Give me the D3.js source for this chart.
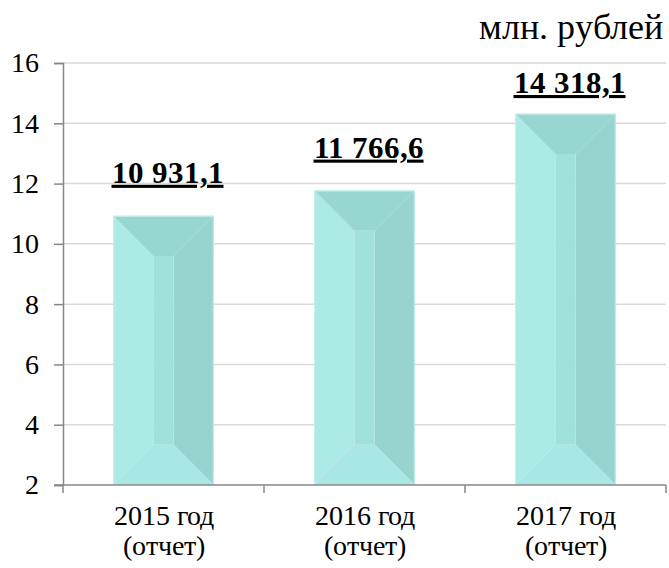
<!DOCTYPE html>
<html>
<head>
<meta charset="utf-8">
<script src="https://cdn.jsdelivr.net/npm/d3@7"></script>
<style>
  @font-face {
    font-family: "RefSerif";
    src: local("Liberation Serif"), local("LiberationSerif"), local("Liberation Serif Regular"), local("LiberationSerif-Regular");
    font-weight: normal;
  }
  @font-face {
    font-family: "RefSerif";
    src: local("Liberation Serif Bold"), local("LiberationSerif-Bold");
    font-weight: bold;
  }
  svg text { font-family: "RefSerif", "Liberation Serif", Tinos, "Times New Roman", serif; }
</style>
</head>
<body style="margin:0; background:#fff">
<script>
// data
var years = ["2015 год", "2016 год", "2017 год"];
var notes = ["(отчет)", "(отчет)", "(отчет)"];
var values = [10.9311, 11.7666, 14.3181];
var valueLabels = ["10 931,1", "11 766,6", "14 318,1"];
var yTicks = [2, 4, 6, 8, 10, 12, 14, 16];
var unitLabel = "млн. рублей";

var width = 669,
  height = 568,
  margin = { top: 63, right: 3, bottom: 83, left: 63 };

var svg = d3.select("body").append("svg")
  .attr("width", width)
  .attr("height", height);

var x = d3.scaleBand()
  .domain(years)
  .range([margin.left, width - margin.right])
  .paddingInner(0.5)
  .paddingOuter(0.25);

var y = d3.scaleLinear()
  .domain([2, 16])
  .range([height - margin.bottom, margin.top]);

// gridlines
svg.append("g")
  .selectAll("line")
  .data(yTicks.slice(1))
  .enter().append("line")
  .attr("x1", margin.left)
  .attr("x2", width - margin.right)
  .attr("y1", function(d) { return y(d); })
  .attr("y2", function(d) { return y(d); })
  .attr("stroke", "#d9d9d9")
  .attr("stroke-width", 1.5);

// bevelled bars
var faces = [
  { name: "left",   color: "#aceae6" },
  { name: "top",    color: "#98d6d2" },
  { name: "right",  color: "#97d4d0" },
  { name: "bottom", color: "#a8e7e3" },
  { name: "center", color: "#a1e1dc" }
];

function facePoints(face, x0, y0, x1, y1, b) {
  var pts;
  if (face === "left") pts = [[x0, y0], [x0 + b, y0 + b], [x0 + b, y1 - b], [x0, y1]];
  else if (face === "top") pts = [[x0, y0], [x1, y0], [x1 - b, y0 + b], [x0 + b, y0 + b]];
  else if (face === "right") pts = [[x1, y0], [x1, y1], [x1 - b, y1 - b], [x1 - b, y0 + b]];
  else if (face === "bottom") pts = [[x0, y1], [x1, y1], [x1 - b, y1 - b], [x0 + b, y1 - b]];
  else pts = [[x0 + b, y0 + b], [x1 - b, y0 + b], [x1 - b, y1 - b], [x0 + b, y1 - b]];
  return pts.map(function(p) { return p.join(","); }).join(" ");
}

var bars = svg.append("g")
  .selectAll("g")
  .data(values)
  .enter().append("g");

bars.each(function(v, i) {
  var g = d3.select(this);
  var x0 = x(years[i]), x1 = x0 + x.bandwidth();
  var y0 = y(v), y1 = y(2);
  var b = x.bandwidth() * 0.4;
  faces.forEach(function(f) {
    g.append("polygon")
      .attr("points", facePoints(f.name, x0, y0, x1, y1, b))
      .attr("fill", f.color);
  });
  g.append("rect")
    .attr("x", x0 + 0.5)
    .attr("y", y0 + 0.5)
    .attr("width", x.bandwidth() - 1)
    .attr("height", y1 - y0 - 1)
    .attr("fill", "none")
    .attr("stroke", "#c4efec")
    .attr("stroke-width", 1);
});

// value labels (kept inside the plot area at the top)
svg.append("g")
  .selectAll("text")
  .data(values)
  .enter().append("text")
  .attr("x", function(d, i) { return x(years[i]) + x.bandwidth() / 2 + 4; })
  .attr("y", function(d) { return Math.max(y(d) - 33, margin.top + 30); })
  .attr("text-anchor", "middle")
  .attr("font-size", 31)
  .attr("font-weight", "bold")
  .attr("text-decoration", "underline")
  .text(function(d, i) { return valueLabels[i]; });

// y axis
var yAxis = svg.append("g")
  .attr("transform", "translate(" + margin.left + ",0)")
  .call(d3.axisLeft(y).tickValues(yTicks).tickSize(9).tickPadding(15).tickFormat(d3.format("d")));
yAxis.attr("font-family", null);
yAxis.select(".domain").attr("stroke", "#878787").attr("stroke-width", 1.5);
yAxis.selectAll(".tick line").attr("stroke", "#878787").attr("stroke-width", 1.5);
yAxis.selectAll(".tick text")
  .attr("font-size", 28)
  .attr("fill", "#000");

// x axis
var xAxis = svg.append("g")
  .attr("transform", "translate(0," + y(2) + ")");
xAxis.append("line")
  .attr("x1", margin.left - 9)
  .attr("x2", width - margin.right)
  .attr("stroke", "#878787")
  .attr("stroke-width", 1.5);
var xTickPos = [margin.left].concat(years.map(function(d) { return x(d) + x.bandwidth() + x.step() * 0.25; }));
xAxis.selectAll(".xt")
  .data(xTickPos)
  .enter().append("line")
  .attr("class", "xt")
  .attr("x1", function(d) { return d; })
  .attr("x2", function(d) { return d; })
  .attr("y1", 0)
  .attr("y2", 8)
  .attr("stroke", "#878787")
  .attr("stroke-width", 1.5);

xAxis.selectAll(".cat")
  .data(years)
  .enter().append("text")
  .attr("class", "cat")
  .attr("text-anchor", "middle")
  .attr("font-size", 28)
  .attr("x", function(d) { return x(d) + x.bandwidth() / 2; })
  .attr("y", 40)
  .text(function(d) { return d; });
xAxis.selectAll(".note")
  .data(notes)
  .enter().append("text")
  .attr("class", "note")
  .attr("text-anchor", "middle")
  .attr("font-size", 28)
  .attr("x", function(d, i) { return x(years[i]) + x.bandwidth() / 2; })
  .attr("y", 70)
  .text(function(d) { return d; });

// unit label
svg.append("text")
  .attr("x", width - 6)
  .attr("y", 39)
  .attr("text-anchor", "end")
  .attr("font-size", 36)
  .text(unitLabel);
</script>
</body>
</html>
